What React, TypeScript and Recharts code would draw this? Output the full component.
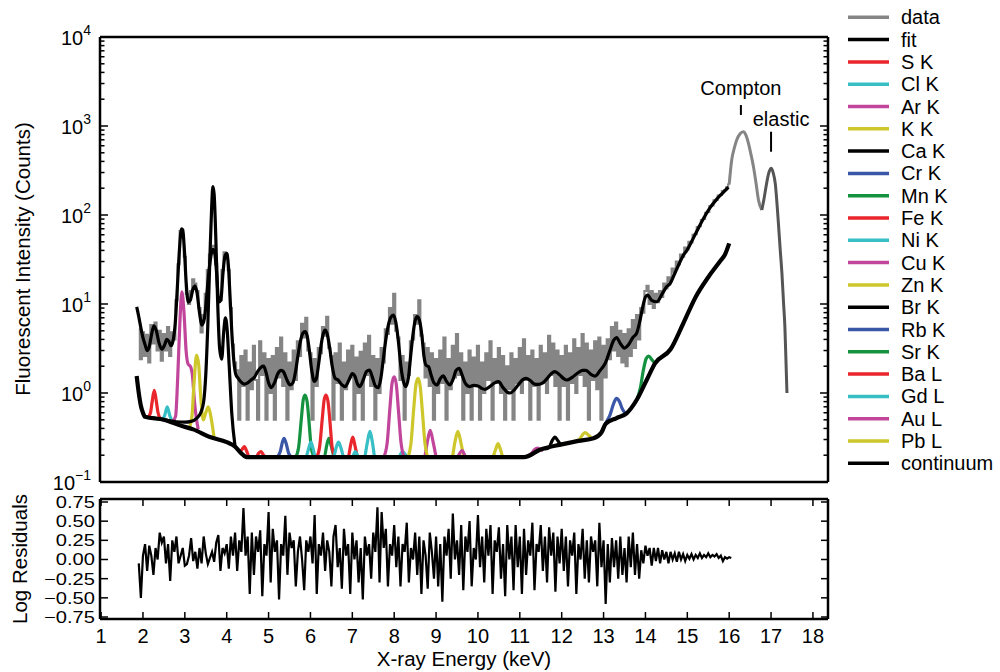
import React from 'react';
import { LineChart, Line, XAxis, YAxis, ReferenceLine, ReferenceDot } from 'recharts';

const FONT = '"Liberation Sans", Arial, Helvetica, sans-serif';

const RED = '#e8262b';
const CYAN = '#37bfc5';
const MAGENTA = '#c2459c';
const YELLOW = '#cec72b';
const BLUE = '#3a56a6';
const GREEN = '#14923f';
const BLACK = '#000000';
const GRAY = '#858585';
const DARKGRAY = '#555555';

// measured spectrum in 0.05 keV bins, starting at 1.90 keV
const spectrumStart = 1.9;
const spectrumStep = 0.05;
const spectrumCounts = [
  // 1.90 - 2.70
  5.2, 2.4, 4.8, 2.6, 4.5, 2.2, 5.8, 3.6, 6.2, 3.0, 5.0, 2.3, 4.6, 3.0, 5.5, 2.6, 4.8,
  // 2.75 - 4.20
  4.0, 11, 28, 66, 60, 34, 13, 10, 14, 19, 17, 14, 9, 4.8, 7.5, 13, 24, 36, 44, 45, 28, 12, 11, 24, 38, 36, 24, 9, 3.5, 2.2,
  // 4.25 - 5.00
  1.8, 0.5, 2.6, 1.2, 3.0, 0.5, 2.2, 1.1, 3.4, 1.4, 0.5, 3.8, 1.6, 2.8, 0.5, 2.4,
  // 5.05 - 6.00
  1.0, 2.6, 0.5, 3.2, 1.5, 4.2, 1.2, 2.8, 0.5, 2.2, 1.1, 3.0, 1.4, 3.8, 2.6, 6.0, 4.2, 7.0, 3.0, 2.8,
  // 6.05 - 7.00
  0.5, 2.4, 1.2, 3.2, 2.8, 5.5, 4.4, 7.2, 3.2, 2.6, 0.5, 2.8, 1.3, 3.6, 0.5, 2.2, 1.1, 3.0, 1.5, 3.4,
  // 7.05 - 8.00
  0.5, 2.5, 1.0, 2.9, 0.5, 3.6, 1.6, 4.4, 1.2, 2.6, 0.5, 2.4, 1.0, 3.2, 2.2, 5.2, 4.6, 9.0, 6.0, 13.0,
  // 8.05 - 9.00
  5.0, 4.2, 1.4, 2.6, 0.5, 2.2, 1.6, 3.8, 4.0, 7.5, 6.0, 11.0, 4.4, 3.6, 1.5, 3.2, 1.2, 2.8, 0.5, 2.4,
  // 9.05 - 10.00
  1.0, 3.0, 1.3, 4.2, 0.5, 2.4, 1.1, 3.4, 1.5, 4.6, 1.6, 2.8, 0.5, 2.2, 1.0, 3.0, 0.5, 2.5, 1.2, 3.4,
  // 10.05 - 11.00
  0.5, 2.2, 1.0, 2.8, 1.4, 3.8, 0.5, 2.4, 1.3, 3.2, 1.0, 2.6, 0.5, 2.0, 1.1, 2.8, 0.5, 2.4, 1.3, 3.2,
  // 11.05 - 12.00
  1.0, 4.0, 1.4, 2.6, 0.5, 3.0, 1.2, 2.4, 0.5, 3.4, 1.3, 2.8, 1.0, 4.4, 1.6, 3.6, 1.2, 3.0, 0.5, 2.6,
  // 12.05 - 13.00
  1.2, 3.4, 0.5, 2.8, 1.3, 4.0, 1.0, 3.2, 1.6, 4.6, 1.2, 3.6, 0.5, 3.0, 1.4, 3.8, 1.1, 4.2, 0.5, 3.4,
  // 13.05 - 14.00
  1.5, 4.0, 2.4, 5.5, 3.0, 6.2, 2.6, 5.0, 2.2, 4.6, 2.0, 5.2, 2.6, 6.6, 3.2, 7.5, 4.0, 9.0, 8.0, 14.0,
  // 14.05 - 15.00
  16, 10, 14, 9, 13, 10.5, 14, 12, 17, 15, 20, 18, 25, 23, 30, 28, 36, 34, 43, 41,
  // 15.05 - 16.00
  50, 49, 60, 61, 73, 75, 88, 90, 106, 108, 126, 128, 146, 148, 165, 168, 186, 190, 205, 220,
];

// log residuals on the same grid, 1.90 - 16.05 keV
const residualValues = [
  // 1.90 - 2.70
  -0.05, -0.5, 0.05, 0.2, -0.15, 0.18, 0.05, -0.2, 0.15, 0.0, 0.35, 0.22, 0.3, -0.05, 0.2, -0.28, 0.25,
  // 2.75 - 4.20
  0.1, 0.3, -0.05, 0.05, 0.15, -0.08, -0.06, 0.05, 0.28, -0.02, 0.1, -0.12, 0.15, -0.05, 0.3, 0.08, -0.06, 0.02, 0.1, -0.03, 0.22, 0.32, -0.15, 0.15, 0.08, 0.2, -0.12, 0.3, 0.05, 0.35,
  // 4.25 - 5.00
  -0.15, 0.25, 0.1, 0.67, 0.05, 0.3, -0.45, 0.35, -0.2, 0.3, 0.1, 0.38, -0.48, 0.2, 0.05, 0.62,
  // 5.05 - 6.00
  -0.3, 0.4, 0.1, 0.25, -0.52, 0.2, 0.05, 0.57, -0.2, 0.35, 0.15, 0.25, -0.35, 0.1, 0.3, 0.0, -0.4, 0.25, 0.1, 0.3,
  // 6.05 - 7.00
  -0.05, 0.58, -0.45, 0.2, 0.05, 0.35, -0.15, 0.25, 0.1, -0.35, 0.3, 0.45, -0.1, 0.15, -0.38, 0.4, 0.05, 0.2, -0.45, 0.35,
  // 7.05 - 8.00
  0.0, 0.25, -0.3, 0.15, -0.52, 0.3, 0.05, 0.2, -0.25, 0.35, 0.1, 0.68, -0.3, 0.62, 0.15, 0.4, -0.35, 0.2, 0.05, 0.45,
  // 8.05 - 9.00
  -0.1, 0.3, -0.35, 0.2, 0.1, 0.48, -0.3, 0.15, 0.0, 0.35, -0.2, 0.3, -0.45, 0.25, 0.05, -0.38, 0.35, 0.1, -0.25, 0.3,
  // 9.05 - 10.00
  -0.35, 0.2, -0.55, 0.3, 0.05, 0.4, -0.25, 0.6, 0.0, 0.25, -0.2, 0.45, -0.4, 0.3, 0.1, 0.5, -0.35, 0.15, 0.0, 0.58,
  // 10.05 - 11.00
  -0.1, 0.3, -0.3, 0.4, 0.05, 0.45, -0.45, 0.25, 0.1, 0.42, -0.25, 0.2, -0.48, 0.45, 0.0, 0.3, -0.4, 0.45, -0.1, 0.3,
  // 11.05 - 12.00
  -0.45, 0.4, -0.2, 0.25, 0.05, 0.48, -0.4, 0.2, 0.1, 0.45, -0.15, 0.3, -0.3, 0.42, 0.05, 0.35, -0.42, 0.3, -0.05, 0.4,
  // 12.05 - 13.00
  -0.15, 0.3, -0.35, 0.25, 0.05, 0.35, -0.45, 0.2, 0.0, 0.4, -0.25, 0.25, -0.3, 0.3, 0.1, 0.25, -0.35, 0.48, -0.1, 0.25,
  // 13.05 - 14.00
  -0.58, 0.2, -0.3, 0.28, -0.1, 0.25, -0.25, 0.3, -0.2, 0.15, -0.3, 0.3, -0.1, 0.35, -0.2, 0.2, -0.25, 0.12, -0.05, 0.18,
  // 14.05 - 15.00
  0.05, 0.15, -0.08, 0.15, -0.02, 0.15, -0.05, 0.12, 0.0, 0.1, -0.05, 0.1, 0.0, 0.08, -0.03, 0.1, 0.0, 0.07, -0.02, 0.06,
  // 15.05 - 16.05
  0.01, 0.07, 0.0, 0.06, 0.02, 0.08, 0.02, 0.06, 0.03, 0.08, 0.03, 0.06, 0.04, 0.07, 0.02, 0.05, -0.02, 0.03, 0.01, 0.03, 0.02,
];

// data above the fitted range
const comptonTail: [number, number][] = [
  [16.0, 220], [16.06, 415], [16.12, 560], [16.18, 697], [16.26, 820], [16.34, 863], [16.4, 790],
  [16.46, 640], [16.52, 480], [16.58, 349], [16.64, 230], [16.7, 147], [16.78, 114],
];
const elasticTail: [number, number][] = [
  [16.78, 114], [16.83, 150], [16.88, 208], [16.94, 290], [17.0, 335], [17.05, 300], [17.1, 227],
  [17.17, 88], [17.22, 40], [17.26, 22], [17.3, 10], [17.33, 5.6], [17.36, 2.0], [17.38, 1.0],
];

const fitCurve: [number, number][] = [
  [1.85, 9.3], [1.9, 7.2], [1.95, 5.4], [2.0, 4.2], [2.05, 3.5], [2.1, 3.0], [2.15, 3.3], [2.2, 4.4], [2.26, 5.7],
  [2.32, 5.0], [2.38, 3.7], [2.45, 3.1], [2.52, 3.5], [2.57, 4.0], [2.62, 3.8], [2.67, 3.4], [2.72, 3.9], [2.77, 6],
  [2.82, 15], [2.87, 40], [2.92, 70], [2.95, 68], [2.99, 40], [3.03, 18], [3.08, 10.5], [3.13, 11], [3.19, 14.5],
  [3.24, 16], [3.29, 13.5], [3.35, 8], [3.41, 5.8], [3.47, 7], [3.52, 12], [3.57, 22], [3.62, 34], [3.67, 41],
  [3.71, 38], [3.76, 22], [3.81, 10.5], [3.86, 11], [3.91, 22], [3.96, 35], [4.0, 37], [4.04, 27], [4.08, 12],
  [4.12, 5], [4.17, 2.3], [4.22, 1.6], [4.28, 1.45], [4.34, 1.33], [4.42, 1.26], [4.5, 1.3], [4.58, 1.4],
  [4.66, 1.5], [4.74, 1.75], [4.82, 1.95], [4.88, 2.0], [4.94, 1.7], [5.0, 1.3], [5.06, 1.15], [5.14, 1.3],
  [5.22, 1.65], [5.3, 1.8], [5.36, 1.72], [5.44, 1.4], [5.51, 1.23], [5.58, 1.3], [5.64, 1.7], [5.7, 2.6],
  [5.76, 3.8], [5.82, 4.7], [5.87, 4.9], [5.92, 4.4], [5.97, 3.1], [6.03, 1.8], [6.09, 1.35], [6.14, 1.45],
  [6.2, 2.2], [6.26, 3.6], [6.31, 4.7], [6.35, 5.1], [6.4, 4.6], [6.46, 3.2], [6.52, 2.0], [6.59, 1.46],
  [6.66, 1.4], [6.74, 1.25], [6.83, 1.18], [6.92, 1.4], [7.0, 1.65], [7.06, 1.55], [7.12, 1.28], [7.18, 1.18],
  [7.26, 1.4], [7.34, 1.75], [7.41, 1.81], [7.48, 1.5], [7.55, 1.2], [7.62, 1.15], [7.68, 1.45], [7.74, 2.4],
  [7.8, 4.0], [7.86, 5.8], [7.92, 7.1], [7.98, 7.5], [8.04, 6.2], [8.1, 3.8], [8.16, 2.0], [8.22, 1.35],
  [8.28, 1.18], [8.34, 1.5], [8.4, 2.8], [8.45, 4.6], [8.5, 6.5], [8.55, 7.2], [8.6, 6.6], [8.66, 4.5],
  [8.71, 2.6], [8.76, 2.05], [8.82, 1.98], [8.88, 1.6], [8.95, 1.3], [9.02, 1.23], [9.1, 1.45], [9.17, 1.56],
  [9.25, 1.35], [9.33, 1.23], [9.4, 1.4], [9.48, 1.8], [9.55, 1.89], [9.62, 1.6], [9.7, 1.28], [9.8, 1.18],
  [9.9, 1.22], [10.0, 1.2], [10.1, 1.12], [10.17, 1.1], [10.3, 1.2], [10.4, 1.3], [10.49, 1.34], [10.6, 1.15],
  [10.7, 1.02], [10.77, 1.0], [10.88, 1.1], [11.0, 1.3], [11.08, 1.42], [11.15, 1.46], [11.25, 1.38],
  [11.35, 1.26], [11.44, 1.25], [11.55, 1.3], [11.65, 1.45], [11.75, 1.65], [11.84, 1.74], [11.95, 1.6],
  [12.05, 1.45], [12.12, 1.4], [12.25, 1.5], [12.4, 1.7], [12.5, 1.8], [12.58, 1.8], [12.7, 1.62], [12.8, 1.55],
  [12.92, 1.8], [13.04, 2.16], [13.15, 3.0], [13.24, 3.9], [13.31, 4.2], [13.4, 3.6], [13.5, 3.2], [13.6, 3.5],
  [13.7, 4.2], [13.79, 4.7], [13.86, 6.2], [13.93, 9], [14.0, 12], [14.05, 12.6], [14.15, 11], [14.27, 10.6],
  [14.4, 13], [14.5, 15.5], [14.59, 17], [14.7, 22], [14.8, 28], [14.9, 35], [14.99, 40], [15.1, 50],
  [15.23, 66], [15.38, 90], [15.54, 120], [15.7, 150], [15.82, 172], [15.9, 188], [15.98, 205],
];

const continuum: [number, number][] = [
  [1.85, 1.55], [1.9, 1.0], [1.95, 0.72], [2.0, 0.6], [2.05, 0.54], [2.5, 0.5], [2.9, 0.43], [3.2, 0.39],
  [3.6, 0.32], [4.0, 0.28], [4.2, 0.25], [4.35, 0.21], [4.48, 0.19], [7.0, 0.19], [11.1, 0.19], [11.48, 0.23],
  [12.0, 0.265], [12.4, 0.29], [12.76, 0.31], [12.95, 0.36], [13.05, 0.45], [13.3, 0.52], [13.55, 0.59],
  [13.8, 0.85], [14.03, 1.4], [14.23, 2.15], [14.6, 3.1], [14.9, 6], [15.2, 12], [15.5, 20], [15.8, 31],
  [15.9, 36], [16.0, 48],
];

// element lines (continuum + peak)
const sK: [number, number][] = [[2.12, 0.53], [2.18, 0.6], [2.22, 0.8], [2.27, 1.07], [2.32, 0.8], [2.36, 0.6], [2.42, 0.51]];
const clK: [number, number][] = [[2.46, 0.5], [2.52, 0.56], [2.58, 0.7], [2.64, 0.56], [2.7, 0.48]];
const arK: [number, number][] = [
  [2.7, 0.47], [2.78, 0.55], [2.83, 1.5], [2.88, 6], [2.93, 13.7], [2.98, 8], [3.03, 3], [3.08, 2.1],
  [3.13, 2.0], [3.18, 1.6], [3.23, 0.8], [3.28, 0.5], [3.32, 0.39],
];
const kK: [number, number][] = [
  [3.1, 0.4], [3.17, 0.55], [3.22, 1.3], [3.28, 2.67], [3.33, 2.1], [3.38, 0.9], [3.44, 0.5], [3.5, 0.6],
  [3.56, 0.7], [3.62, 0.55], [3.7, 0.31],
];
const caK: [number, number][] = [
  [2.2, 0.53], [2.4, 0.51], [2.6, 0.49], [2.8, 0.475], [3.0, 0.47], [3.15, 0.48], [3.28, 0.52], [3.38, 0.6],
  [3.45, 0.8], [3.5, 1.6], [3.55, 6], [3.6, 35], [3.64, 120], [3.67, 208], [3.7, 170], [3.74, 55], [3.78, 12],
  [3.83, 3.2], [3.88, 2.4], [3.93, 5], [3.97, 7], [4.01, 5.2], [4.06, 2], [4.12, 0.6], [4.2, 0.25],
];
const crK: [number, number][] = [[5.2, 0.19], [5.28, 0.22], [5.33, 0.28], [5.37, 0.31], [5.42, 0.27], [5.48, 0.21], [5.55, 0.19]];
const mnK: [number, number][] = [
  [5.65, 0.19], [5.72, 0.25], [5.78, 0.5], [5.83, 0.85], [5.87, 0.95], [5.92, 0.8], [5.97, 0.45], [6.02, 0.24],
  [6.1, 0.19], [6.33, 0.19], [6.39, 0.26], [6.44, 0.31], [6.49, 0.26], [6.56, 0.19],
];
const feK: [number, number][] = [
  [6.15, 0.19], [6.22, 0.25], [6.28, 0.5], [6.33, 0.85], [6.37, 0.95], [6.42, 0.8], [6.47, 0.45], [6.52, 0.24],
  [6.6, 0.19], [6.9, 0.19], [6.96, 0.26], [7.01, 0.32], [7.06, 0.26], [7.12, 0.19],
];
const niK: [number, number][] = [
  [7.3, 0.19], [7.36, 0.28], [7.42, 0.37], [7.48, 0.28], [7.54, 0.19], [8.1, 0.19], [8.2, 0.22], [8.3, 0.19],
];
const cuK: [number, number][] = [
  [7.75, 0.19], [7.83, 0.27], [7.9, 0.7], [7.95, 1.3], [8.0, 1.52], [8.05, 1.25], [8.1, 0.65], [8.17, 0.26],
  [8.25, 0.19], [8.72, 0.19], [8.79, 0.28], [8.86, 0.38], [8.93, 0.28], [9.0, 0.19],
];
const znK: [number, number][] = [
  [8.33, 0.19], [8.4, 0.27], [8.47, 0.7], [8.52, 1.25], [8.57, 1.46], [8.62, 1.2], [8.67, 0.65], [8.74, 0.26],
  [8.82, 0.19], [9.38, 0.19], [9.45, 0.28], [9.52, 0.37], [9.59, 0.28], [9.66, 0.19],
];
const brK: [number, number][] = [[11.6, 0.235], [11.7, 0.245], [11.77, 0.29], [11.84, 0.32], [11.91, 0.29], [11.98, 0.265], [12.05, 0.265]];
const rbK: [number, number][] = [
  [12.95, 0.36], [13.04, 0.45], [13.15, 0.56], [13.24, 0.76], [13.31, 0.87], [13.38, 0.8], [13.45, 0.66],
  [13.51, 0.6], [13.55, 0.59],
];
const srK: [number, number][] = [
  [13.7, 0.72], [13.8, 0.85], [13.88, 1.15], [13.95, 1.8], [14.02, 2.45], [14.08, 2.6], [14.15, 2.38], [14.23, 2.15],
];
const baL: [number, number][] = [
  [4.3, 0.22], [4.36, 0.23], [4.42, 0.25], [4.48, 0.22], [4.54, 0.19], [4.7, 0.19], [4.76, 0.21], [4.82, 0.22],
  [4.88, 0.2], [4.94, 0.19],
];
const gdL: [number, number][] = [
  [5.9, 0.19], [5.96, 0.24], [6.01, 0.28], [6.06, 0.24], [6.12, 0.19], [6.55, 0.19], [6.61, 0.24], [6.67, 0.28],
  [6.73, 0.24], [6.8, 0.19], [7.0, 0.19], [7.07, 0.22], [7.14, 0.19],
];
const auL: [number, number][] = [
  [9.52, 0.19], [9.62, 0.225], [9.72, 0.19], [11.1, 0.19], [11.28, 0.21], [11.35, 0.23], [11.42, 0.24],
  [11.49, 0.232], [11.56, 0.227],
];
const pbL: [number, number][] = [
  [10.36, 0.19], [10.42, 0.23], [10.48, 0.27], [10.54, 0.23], [10.6, 0.19], [11.1, 0.19], [11.48, 0.23],
  [12.0, 0.265], [12.3, 0.285], [12.42, 0.3], [12.5, 0.34], [12.56, 0.36], [12.63, 0.34], [12.72, 0.31],
];

const elements = [
  { name: 'S K', color: RED, points: sK },
  { name: 'Cl K', color: CYAN, points: clK },
  { name: 'Ar K', color: MAGENTA, points: arK },
  { name: 'K K', color: YELLOW, points: kK },
  { name: 'Ca K', color: BLACK, points: caK },
  { name: 'Cr K', color: BLUE, points: crK },
  { name: 'Mn K', color: GREEN, points: mnK },
  { name: 'Fe K', color: RED, points: feK },
  { name: 'Ni K', color: CYAN, points: niK },
  { name: 'Cu K', color: MAGENTA, points: cuK },
  { name: 'Zn K', color: YELLOW, points: znK },
  { name: 'Br K', color: BLACK, points: brK },
  { name: 'Rb K', color: BLUE, points: rbK },
  { name: 'Sr K', color: GREEN, points: srK },
  { name: 'Ba L', color: RED, points: baL },
  { name: 'Gd L', color: CYAN, points: gdL },
  { name: 'Au L', color: MAGENTA, points: auL },
  { name: 'Pb L', color: YELLOW, points: pbL },
];

const legendItems = [
  { name: 'data', color: GRAY },
  { name: 'fit', color: BLACK },
  ...elements.map((el) => ({ name: el.name, color: el.color })),
  { name: 'continuum', color: BLACK },
];

const xDomain: [number, number] = [0.974, 18.36];
const energyTicks = [1, 2, 3, 4, 5, 6, 7, 8, 9, 10, 11, 12, 13, 14, 15, 16, 17, 18];
const decadeTicks = [0.1, 1, 10, 100, 1000, 10000];
const decadeExponents = ['\u22121', '0', '1', '2', '3', '4'];
const minorTicks = decadeTicks.slice(0, -1).flatMap((d) => [2, 3, 4, 5, 6, 7, 8, 9].map((m) => d * m));
const logTicks = [...decadeTicks, ...minorTicks];
const residualTicks = [-0.75, -0.5, -0.25, 0, 0.25, 0.5, 0.75];
const residualDomain: [number, number] = [-0.776, 0.789];

const toPoints = (pairs: [number, number][]) => pairs.map(([e, v]) => ({ e, v }));
const spectrumPoints = spectrumCounts.map((v, i) => ({ e: +(spectrumStart + i * spectrumStep).toFixed(2), v }));
const residualPoints = residualValues.map((v, i) => ({ e: +(spectrumStart + i * spectrumStep).toFixed(2), v }));

const frame = { stroke: '#000', strokeWidth: 2.5 };
const tickStroke = { stroke: '#000', strokeWidth: 1.5 };

function LeftLogTick(props: any) {
  const { x, y, payload } = props;
  const idx = decadeTicks.indexOf(payload.value);
  const ax = x + 9;
  return (
    <g>
      <line x1={ax} x2={ax + (idx >= 0 ? 8 : 4.5)} y1={y} y2={y} {...tickStroke} />
      {idx >= 0 && (
        <text x={x} y={y + 8} textAnchor="end" fontSize={20} fill="#000">
          10<tspan dy={-10} fontSize={14}>{decadeExponents[idx]}</tspan>
        </text>
      )}
    </g>
  );
}

function RightLogTick(props: any) {
  const { x, y, payload } = props;
  const major = decadeTicks.indexOf(payload.value) >= 0;
  return <line x1={x} x2={x - (major ? 8 : 4.5)} y1={y} y2={y} {...tickStroke} />;
}

function ResidualLeftTick(props: any) {
  const { x, y, payload } = props;
  const label = payload.value.toFixed(2).replace('-', '\u2212');
  return (
    <g>
      <line x1={x + 5} x2={x + 13} y1={y} y2={y} {...tickStroke} />
      <text transform={`translate(${x},${y + 6}) scale(1.22,1)`} textAnchor="end" fontSize={16.5} fill="#000">
        {label}
      </text>
    </g>
  );
}

function ResidualRightTick(props: any) {
  const { x, y } = props;
  return <line x1={x} x2={x - 7} y1={y} y2={y} {...tickStroke} />;
}

function EnergyBottomTick(props: any) {
  const { x, y, payload } = props;
  return (
    <g>
      <line x1={x} x2={x} y1={y} y2={y - 7} {...tickStroke} />
      <text x={x} y={y + 24} textAnchor="middle" fontSize={20} fill="#000">{payload.value}</text>
    </g>
  );
}

function EnergyTopTick(props: any) {
  const { x, y } = props;
  return <line x1={x} x2={x} y1={y} y2={y + 7} {...tickStroke} />;
}

export default function App() {
  return (
    <div style={{ position: 'absolute', left: 0, top: 0, width: 1000, height: 672, background: '#fff', fontFamily: FONT }}>
      <div style={{ position: 'absolute', left: 0, top: 0 }}>
        <LineChart width={840} height={500} margin={{ top: 36, right: 11, bottom: 16, left: 40 }}>
          <XAxis xAxisId="b" type="number" dataKey="e" domain={xDomain} allowDataOverflow orientation="bottom"
            height={2} tick={false} tickLine={false} axisLine={frame} />
          <XAxis xAxisId="t" type="number" dataKey="e" domain={xDomain} allowDataOverflow orientation="top"
            height={1} tick={false} tickLine={false} axisLine={frame} />
          <YAxis yAxisId="l" type="number" scale="log" domain={[0.1, 10000]} allowDataOverflow ticks={logTicks}
            interval={0} width={60} tickSize={0} tickMargin={9} tickLine={false} tick={<LeftLogTick />} axisLine={frame} />
          <YAxis yAxisId="r" orientation="right" type="number" scale="log" domain={[0.1, 10000]} allowDataOverflow
            ticks={logTicks} interval={0} width={1} tickSize={0} tickMargin={0} tickLine={false} tick={<RightLogTick />} axisLine={frame} />

          <Line xAxisId="b" yAxisId="l" name="data" data={spectrumPoints} dataKey="v" type="step" stroke={GRAY}
            strokeWidth={2.1} dot={false} isAnimationActive={false} />
          <Line xAxisId="b" yAxisId="l" name="data tail" data={toPoints(comptonTail)} dataKey="v" type="monotone"
            stroke={GRAY} strokeWidth={3} dot={false} isAnimationActive={false} />
          <Line xAxisId="b" yAxisId="l" name="elastic" data={toPoints(elasticTail)} dataKey="v" type="monotone"
            stroke={DARKGRAY} strokeWidth={3} dot={false} isAnimationActive={false} />
          <Line xAxisId="b" yAxisId="l" name="fit" data={toPoints(fitCurve)} dataKey="v" type="monotone"
            stroke={BLACK} strokeWidth={3.2} dot={false} isAnimationActive={false} />
          {elements.map((el) => (
            <Line key={el.name} xAxisId="b" yAxisId="l" name={el.name} data={toPoints(el.points)} dataKey="v"
              type="monotone" stroke={el.color} strokeWidth={3.2} dot={false} isAnimationActive={false} />
          ))}
          <Line xAxisId="b" yAxisId="l" name="continuum" data={toPoints(continuum)} dataKey="v" type="monotone"
            stroke={BLACK} strokeWidth={4.2} dot={false} isAnimationActive={false} />

          <ReferenceLine xAxisId="b" yAxisId="l" segment={[{ x: 16.28, y: 1330 }, { x: 16.28, y: 1720 }]}
            stroke="#000" strokeWidth={2} />
          <ReferenceLine xAxisId="b" yAxisId="l" segment={[{ x: 17.0, y: 514 }, { x: 17.0, y: 863 }]}
            stroke="#000" strokeWidth={2} />
          <ReferenceDot xAxisId="b" yAxisId="l" x={16.28} y={2712} r={0} fill="none" stroke="none"
            label={{ value: 'Compton', position: 'center', fontSize: 20, fill: '#000' }} />
          <ReferenceDot xAxisId="b" yAxisId="l" x={17.24} y={1200} r={0} fill="none" stroke="none"
            label={{ value: 'elastic', position: 'center', fontSize: 20, fill: '#000' }} />
        </LineChart>
      </div>

      <div style={{ position: 'absolute', left: 0, top: 480 }}>
        <LineChart width={840} height={192} margin={{ top: 18, right: 11, bottom: 0, left: 40 }}>
          <XAxis xAxisId="b" type="number" dataKey="e" domain={xDomain} allowDataOverflow orientation="bottom"
            ticks={energyTicks} interval={0} height={53} tickSize={0} tickMargin={0} tickLine={false}
            tick={<EnergyBottomTick />} axisLine={frame} />
          <XAxis xAxisId="t" type="number" dataKey="e" domain={xDomain} allowDataOverflow orientation="top"
            ticks={energyTicks} interval={0} height={1} tickSize={0} tickMargin={0} tickLine={false}
            tick={<EnergyTopTick />} axisLine={frame} />
          <YAxis yAxisId="l" type="number" domain={residualDomain} allowDataOverflow ticks={residualTicks} interval={0}
            width={60} tickSize={0} tickMargin={5} tickLine={false} tick={<ResidualLeftTick />} axisLine={frame} />
          <YAxis yAxisId="r" orientation="right" type="number" domain={residualDomain} allowDataOverflow
            ticks={residualTicks} interval={0} width={1} tickSize={0} tickMargin={0} tickLine={false}
            tick={<ResidualRightTick />} axisLine={frame} />
          <Line xAxisId="b" yAxisId="l" name="residuals" data={residualPoints} dataKey="v" type="linear"
            stroke={BLACK} strokeWidth={2.2} dot={false} isAnimationActive={false} />
        </LineChart>
      </div>

      <svg width={1000} height={672} style={{ position: 'absolute', left: 0, top: 0, pointerEvents: 'none' }}>
        <text transform="translate(30,259) rotate(-90)" textAnchor="middle" fontSize={20.5} fill="#000">
          Fluorescent Intensity (Counts)
        </text>
        <text transform="translate(27,559) rotate(-90)" textAnchor="middle" fontSize={20.5} fill="#000">
          Log Residuals
        </text>
        <text x={464} y={666} textAnchor="middle" fontSize={20.5} fill="#000">X-ray Energy (keV)</text>
        {legendItems.map((item, i) => {
          const cy = 17.3 + 22.3 * i;
          return (
            <g key={item.name}>
              <line x1={848} x2={889} y1={cy} y2={cy} stroke={item.color} strokeWidth={3.5} />
              <text x={901} y={cy + 7} fontSize={20} fill="#000">{item.name}</text>
            </g>
          );
        })}
      </svg>
    </div>
  );
}
